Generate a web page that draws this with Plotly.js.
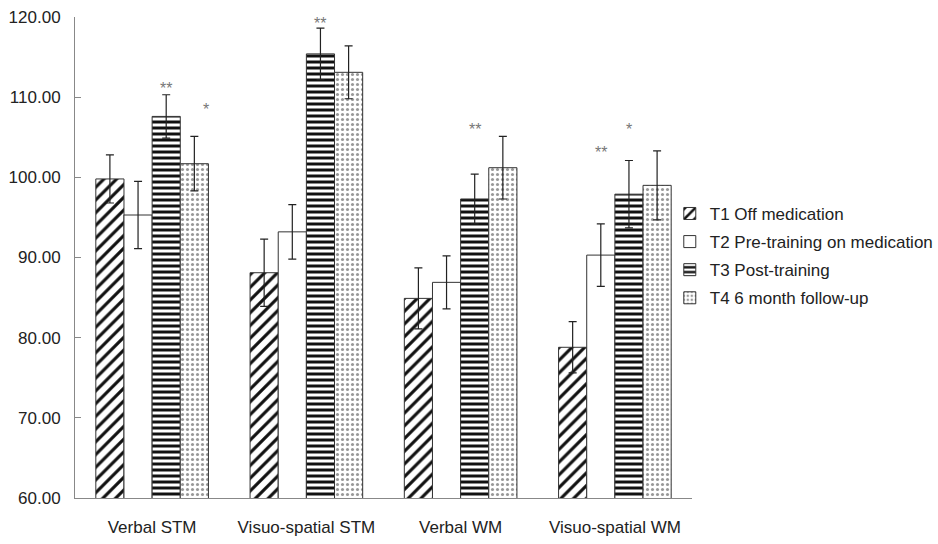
<!DOCTYPE html>
<html>
<head>
<meta charset="utf-8">
<script src="https://cdn.plot.ly/plotly-3.0.1.min.js"></script>
<style>html,body{margin:0;padding:0;background:#fff;}#chart{width:938px;height:544px;}</style>
</head>
<body>
<div id="chart"></div>
<script>
// ---- data ----
const categories = ["Verbal STM", "Visuo-spatial STM", "Verbal WM", "Visuo-spatial WM"];
const seriesNames = ["T1 Off medication", "T2 Pre-training on medication", "T3 Post-training", "T4 6 month follow-up"];
const t1Values = [99.8, 88.1, 84.9, 78.8];
const t2Values = [95.3, 93.2, 86.9, 90.3];
const t3Values = [107.6, 115.4, 97.3, 97.9];
const t4Values = [101.7, 113.1, 101.2, 99.0];
const t1Errors = [3.0, 4.2, 3.8, 3.2];
const t2Errors = [4.2, 3.4, 3.3, 3.9];
const t3Errors = [2.7, 3.2, 3.1, 4.2];
const t4Errors = [3.4, 3.3, 3.9, 4.3];
const yTickValues = [60, 70, 80, 90, 100, 110, 120];
const yRange = [60, 120];
// significance marks: category index, series index, label, y value
const sigCategory = [0, 0, 1, 2, 3, 3];
const sigSeries = [2, 3, 2, 2, 1, 2];
const sigLabels = ["**", "*", "**", "**", "**", "*"];
const sigY = [112.4, 109.8, 120.5, 107.3, 104.4, 107.3];
const sigShift = [0, 12, 0, 0, 0, 0];

// ---- styles ----
const values = [t1Values, t2Values, t3Values, t4Values];
const errors = [t1Errors, t2Errors, t3Errors, t4Errors];
const patterns = [
  {shape: "/", fgcolor: "#111", bgcolor: "#fff", size: 9, solidity: 0.35},
  {shape: "", fgcolor: "#111", bgcolor: "#fff"},
  {shape: "-", fgcolor: "#111", bgcolor: "#fff", size: 6, solidity: 0.5},
  {shape: ".", fgcolor: "#999", bgcolor: "#fff", size: 5, solidity: 0.3}
];
const bargap = 0.27;
const barW = (1 - bargap) / 4;

const traces = seriesNames.map((name, i) => ({
  type: "bar",
  name: name,
  x: categories,
  y: values[i],
  legendgroup: "g" + i,
  marker: {color: "#fff", pattern: patterns[i], line: {color: "#333", width: 1}},
  error_y: {type: "data", array: errors[i], visible: true, color: "#222", thickness: 1.2, width: 4}
}));

const annotations = sigLabels.map((lab, k) => ({
  x: sigCategory[k] + (sigSeries[k] - 1.5) * barW,
  y: (sigY[k] - yRange[0]) / (yRange[1] - yRange[0]),
  xref: "x", yref: "paper",
  text: lab,
  showarrow: false,
  xshift: sigShift[k],
  font: {family: "Liberation Sans, Arial, sans-serif", size: 16, color: "#777"}
}));

const layout = {
  width: 938, height: 544,
  margin: {l: 75, r: 246, t: 17, b: 46, autoexpand: false},
  paper_bgcolor: "#fff", plot_bgcolor: "#fff",
  barmode: "group", bargap: bargap, bargroupgap: 0,
  font: {family: "Liberation Sans, Arial, sans-serif", size: 17, color: "#222"},
  showlegend: true,
  legend: {x: 0.964, xanchor: "left", y: 0.628, yanchor: "top", tracegroupgap: 3,
           font: {size: 17, color: "#222"}, bgcolor: "rgba(0,0,0,0)"},
  xaxis: {type: "category", showline: true, linecolor: "#888", linewidth: 1, ticks: "",
          showgrid: false, zeroline: false, ticklabelstandoff: 14, tickfont: {size: 17}},
  yaxis: {range: yRange, tickvals: yTickValues, tickformat: ".2f", showline: true,
          linecolor: "#888", linewidth: 1, ticks: "inside", ticklen: 6, tickcolor: "#888",
          showgrid: false, zeroline: false, ticklabelstandoff: 10, tickfont: {size: 17}},
  annotations: annotations
};

Plotly.newPlot("chart", traces, layout, {displayModeBar: false, staticPlot: true});
</script>
</body>
</html>
